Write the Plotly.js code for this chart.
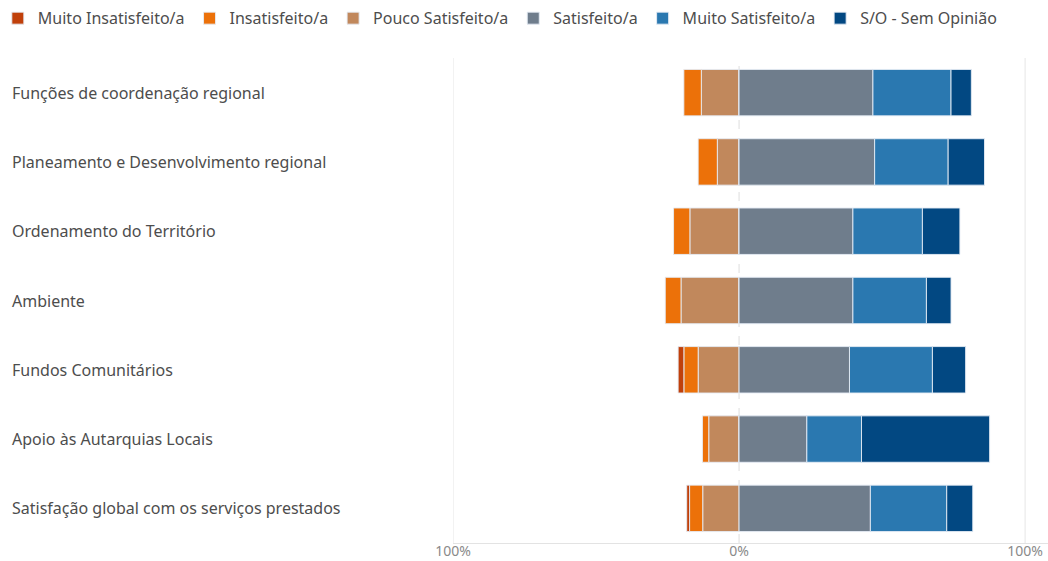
<!DOCTYPE html>
<html><head><meta charset="utf-8">
<script src="https://cdn.plot.ly/plotly-3.0.1.min.js"></script>
<style>html,body{margin:0;padding:0;background:#fff}#chart{width:1048px;height:561px}</style>
</head><body><div id="chart"></div>
<script>
const categories = [
  "Funções de coordenação regional",
  "Planeamento e Desenvolvimento regional",
  "Ordenamento do Território",
  "Ambiente",
  "Fundos Comunitários",
  "Apoio às Autarquias Locais",
  "Satisfação global com os serviços prestados"
];
const muitoInsatisfeito = [0, 0, 0, 0, 2.0, 0, 1.0];
const insatisfeito      = [6.1, 6.7, 5.7, 5.5, 5.0, 2.2, 4.6];
const poucoSatisfeito   = [13.2, 7.6, 17.2, 20.3, 14.3, 10.6, 12.7];
const satisfeito        = [46.8, 47.4, 39.8, 39.8, 38.6, 23.7, 45.9];
const muitoSatisfeito   = [27.3, 25.7, 24.3, 25.7, 29.0, 19.1, 26.7];
const semOpiniao        = [7.1, 12.7, 13.1, 8.6, 11.6, 44.8, 9.1];
const tickVals = [-100, 0, 100];
const tickText = ["100%", "0%", "100%"];

const neg = a => a.map(v => -v);
const line = {color: "rgba(230,236,245,0.9)", width: 1};
function tr(name, vals, color, rank) {
  return {type: "bar", orientation: "h", name: name, y: categories, x: vals,
    marker: {color: color, line: line}, legendrank: rank, hoverinfo: "name+x"};
}
const data = [
  tr("Pouco Satisfeito/a", neg(poucoSatisfeito), "#C1885C", 3),
  tr("Insatisfeito/a", neg(insatisfeito), "#EC7109", 2),
  tr("Muito Insatisfeito/a", neg(muitoInsatisfeito), "#C0400A", 1),
  tr("Satisfeito/a", satisfeito, "#6F7D8C", 4),
  tr("Muito Satisfeito/a", muitoSatisfeito, "#2A78B0", 5),
  tr("S/O - Sem Opinião", semOpiniao, "#024882", 6)
];

const annotations = categories.map(c => ({
  text: c, xref: "paper", yref: "y", x: -0.745, y: c, xanchor: "left", yanchor: "middle",
  showarrow: false, font: {family: "Noto Sans, sans-serif", size: 16, color: "#4d4d4d"}
}));

const shapes = [
  {type: "line", xref: "x", yref: "paper", x0: -100, x1: -100, y0: 0, y1: 1, layer: "below", line: {color: "#e6e6e6", width: 1}},
  {type: "line", xref: "x", yref: "paper", x0: 100, x1: 100, y0: 0, y1: 1, layer: "below", line: {color: "#e6e6e6", width: 1}},
  {type: "line", xref: "x", yref: "paper", x0: 0, x1: 0, y0: 0, y1: 1, layer: "below", line: {color: "#dddddd", width: 1, dash: "dash"}}
];

const layout = {
  width: 1048, height: 561,
  margin: {l: 453, r: 0, t: 58, b: 18, autoexpand: false},
  barmode: "relative", bargap: 0.33,
  paper_bgcolor: "#fff", plot_bgcolor: "#fff",
  font: {family: "Noto Sans, sans-serif", color: "#4d4d4d"},
  xaxis: {range: [-100, 108], tickvals: tickVals, ticktext: tickText, showgrid: false, zeroline: false,
    showline: true, linecolor: "#e3e3e3", linewidth: 1, ticks: "", fixedrange: true, ticklabelstandoff: -5,
    tickfont: {size: 14, color: "#8a8a8a"}},
  yaxis: {autorange: "reversed", showticklabels: false, showgrid: false, zeroline: false, ticks: "", fixedrange: true},
  legend: {orientation: "h", xref: "paper", yref: "paper", x: -0.765, y: 1.117, xanchor: "left", yanchor: "top",
    font: {size: 16, color: "#4d4d4d"}, itemwidth: 30, traceorder: "normal"},
  annotations: annotations, shapes: shapes, showlegend: true
};
Plotly.newPlot("chart", data, layout, {displayModeBar: false, staticPlot: true});
</script></body></html>
